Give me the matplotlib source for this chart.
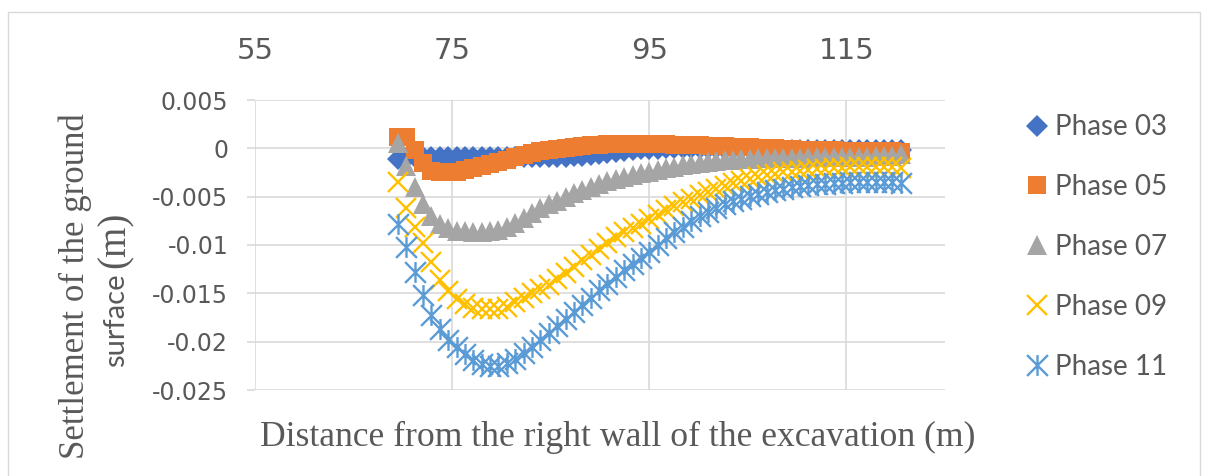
import numpy as np
import matplotlib
matplotlib.use("Agg")
import matplotlib.pyplot as plt
from matplotlib.path import Path
from matplotlib.patches import Rectangle

# ── data ─────────────────────────────────────────────────────────────────────
distance = [69.5, 70.35, 71.2, 72.05, 72.9, 73.75, 74.6, 75.45, 76.3, 77.15,
            78.0, 78.85, 79.7, 80.55, 81.4, 82.25, 83.1, 83.95, 84.8, 85.65,
            86.5, 87.35, 88.2, 89.05, 89.9, 90.75, 91.6, 92.45, 93.3, 94.15,
            95.0, 95.85, 96.7, 97.55, 98.4, 99.25, 100.1, 100.95, 101.8, 102.65,
            103.5, 104.35, 105.2, 106.05, 106.9, 107.75, 108.6, 109.45, 110.3, 111.15,
            112.0, 112.85, 113.7, 114.55, 115.4, 116.25, 117.1, 117.95, 118.8, 119.65,
            120.5]

phase03 = [-0.0011, -0.0010, -0.0009, -0.0009, -0.0009, -0.0009, -0.0009, -0.0009, -0.0009, -0.0009,
           -0.0009, -0.0009, -0.0009, -0.0009, -0.0009, -0.0009, -0.0009, -0.0009, -0.0009, -0.0009,
           -0.0009, -0.0008, -0.0008, -0.0007, -0.0006, -0.0005, -0.0004, -0.0003, -0.0002, -0.0001,
           -0.0001, -0.0001, 0.0000, 0.0000, 0.0000, 0.0000, 0.0000, 0.0000, 0.0000, -0.0001,
           -0.0001, -0.0001, -0.0001, -0.0002, -0.0002, -0.0002, -0.0002, -0.0002, -0.0002, -0.0002,
           -0.0002, -0.0002, -0.0002, -0.0002, -0.0002, -0.0002, -0.0002, -0.0002, -0.0002, -0.0002,
           -0.0002]

phase05 = [0.0012, 0.0012, -0.0002, -0.0015, -0.0023, -0.0025, -0.0025, -0.0024, -0.0022, -0.0020,
           -0.0018, -0.0016, -0.0014, -0.0012, -0.0009, -0.0007, -0.0005, -0.0003, -0.0002, -0.0001,
           0.0000, 0.0001, 0.0002, 0.0003, 0.0003, 0.0004, 0.0004, 0.0004, 0.0004, 0.0004,
           0.0004, 0.0004, 0.0004, 0.0003, 0.0003, 0.0003, 0.0003, 0.0002, 0.0002, 0.0002,
           0.0001, 0.0001, 0.0001, 0.0000, 0.0000, 0.0000, -0.0001, -0.0001, -0.0002, -0.0002,
           -0.0002, -0.0002, -0.0002, -0.0003, -0.0003, -0.0003, -0.0003, -0.0003, -0.0003, -0.0003,
           -0.0004]

phase07 = [0.0006, -0.0018, -0.0040, -0.0058, -0.0070, -0.0078, -0.0082, -0.0085, -0.0086, -0.0087,
           -0.0087, -0.0086, -0.0084, -0.0081, -0.0077, -0.0072, -0.0067, -0.0062, -0.0058, -0.0054,
           -0.0050, -0.0046, -0.0043, -0.0040, -0.0037, -0.0034, -0.0032, -0.0030, -0.0028, -0.0026,
           -0.0024, -0.0022, -0.0020, -0.0019, -0.0017, -0.0016, -0.0015, -0.0014, -0.0013, -0.0012,
           -0.0012, -0.0011, -0.0011, -0.0010, -0.0010, -0.0010, -0.0010, -0.0010, -0.0010, -0.0009,
           -0.0009, -0.0009, -0.0009, -0.0009, -0.0009, -0.0009, -0.0009, -0.0008, -0.0008, -0.0008,
           -0.0006]

phase09 = [-0.0035, -0.0062, -0.0081, -0.0098, -0.0118, -0.0136, -0.0148, -0.0156, -0.0161, -0.0165,
           -0.0166, -0.0166, -0.0166, -0.0164, -0.0159, -0.0155, -0.0150, -0.0145, -0.0141, -0.0135,
           -0.0129, -0.0123, -0.0116, -0.0110, -0.0104, -0.0098, -0.0092, -0.0087, -0.0082, -0.0078,
           -0.0073, -0.0069, -0.0064, -0.0060, -0.0056, -0.0052, -0.0048, -0.0045, -0.0042, -0.0039,
           -0.0036, -0.0034, -0.0032, -0.0030, -0.0028, -0.0027, -0.0025, -0.0024, -0.0023, -0.0022,
           -0.0021, -0.0021, -0.0020, -0.0020, -0.0019, -0.0019, -0.0019, -0.0019, -0.0019, -0.0019,
           -0.0020]

phase11 = [-0.0078, -0.0102, -0.0128, -0.0152, -0.0172, -0.0187, -0.0198, -0.0206, -0.0213, -0.0219,
           -0.0223, -0.0225, -0.0225, -0.0222, -0.0218, -0.0212, -0.0205, -0.0198, -0.0191, -0.0184,
           -0.0177, -0.0169, -0.0162, -0.0155, -0.0147, -0.0140, -0.0133, -0.0126, -0.0120, -0.0113,
           -0.0107, -0.0100, -0.0093, -0.0087, -0.0081, -0.0075, -0.0070, -0.0066, -0.0062, -0.0058,
           -0.0055, -0.0052, -0.0049, -0.0047, -0.0045, -0.0043, -0.0042, -0.0040, -0.0039, -0.0038,
           -0.0037, -0.0037, -0.0036, -0.0036, -0.0035, -0.0035, -0.0035, -0.0035, -0.0035, -0.0035,
           -0.0036]

series_labels = ["Phase 03", "Phase 05", "Phase 07", "Phase 09", "Phase 11"]
x_ticks = [55, 75, 95, 115]
y_ticks = [0.005, 0, -0.005, -0.01, -0.015, -0.02, -0.025]
y_ticklabels = ["0.005", "0", "-0.005", "-0.01", "-0.015", "-0.02", "-0.025"]

# ── figure layout (pixel based) ─────────────────────────────────────────────
W, H = 1205, 476
fig = plt.figure(figsize=(W / 100, H / 100), dpi=100)

def fx(px):
    return px / W

def fy(py):
    return 1 - py / H

ax = fig.add_axes([fx(255), fy(390), fx(945) - fx(255), fy(100) - fy(390)])

GRID = "#D9D9D9"
TXT = "#595959"

# Excel style asterisk: X plus a vertical bar
star = Path([(-1, -1), (1, 1), (-1, 1), (1, -1), (0, -1), (0, 1)],
            [Path.MOVETO, Path.LINETO, Path.MOVETO, Path.LINETO, Path.MOVETO, Path.LINETO])

styles = [
    dict(marker="D", ms=11, color="#4472C4"),
    dict(marker="s", ms=13.5, color="#ED7D31"),
    dict(marker="^", ms=15, color="#A5A5A5"),
    dict(marker="x", ms=14.5, mew=1.7, color="#FFC000"),
    dict(marker=star, ms=15, mew=1.7, mfc="none", color="#5B9BD5"),
]
all_series = [phase03, phase05, phase07, phase09, phase11]

for vals, lab, st in zip(all_series, series_labels, styles):
    ax.plot(distance, vals, linestyle="none", label=lab, clip_on=False,
            markeredgewidth=st.get("mew", 0), **{k: v for k, v in st.items() if k != "mew"})

ax.set_xlim(55, 125)
ax.set_ylim(-0.025, 0.005)
ax.set_xticks(x_ticks)
ax.set_yticks(y_ticks)
ax.set_yticklabels(y_ticklabels)
ax.xaxis.tick_top()
ax.tick_params(axis="x", length=0, pad=25, labelsize=21, labelcolor=TXT)
ax.tick_params(axis="y", length=5.8, width=1.2, color=GRID, pad=13.5,
               labelsize=17, labelcolor=TXT)
for lab in ax.get_xticklabels() + ax.get_yticklabels():
    lab.set_fontfamily("DejaVu Sans")
ax.grid(True, color=GRID, linewidth=1.2)
ax.set_axisbelow(True)
for sp in ax.spines.values():
    sp.set_visible(False)

# legend
leg = ax.legend(loc="center left", bbox_to_anchor=(fx(1023), fy(247)),
                bbox_transform=fig.transFigure, frameon=False, borderpad=0,
                borderaxespad=0, handlelength=1.0, handletextpad=0.15,
                labelspacing=1.22, numpoints=1,
                prop={"family": "Lato", "size": 20})
for t in leg.get_texts():
    t.set_color(TXT)

# axis titles
fig.text(fx(618), fy(437), "Distance from the right wall of the excavation (m)",
         ha="center", va="center", fontsize=25.7, family="Liberation Serif", color=TXT)
fig.text(fx(75), fy(286), "Settlement of the ground", rotation=90,
         ha="center", va="center", fontsize=25, family="Liberation Serif", color=TXT)
fig.text(fx(116), fy(320), "surface", rotation=90,
         ha="center", va="center", fontsize=21, family="Lato", color=TXT)
fig.text(fx(115), fy(240), "(m)", rotation=90,
         ha="center", va="center", fontsize=28, family="Liberation Serif", color=TXT)

# chart border
fig.add_artist(Rectangle((fx(8), -0.02), fx(1200) - fx(8), fy(12) + 0.02,
                         transform=fig.transFigure, fill=False,
                         edgecolor=GRID, linewidth=1.0))

fig.savefig("out.png", dpi=100)
